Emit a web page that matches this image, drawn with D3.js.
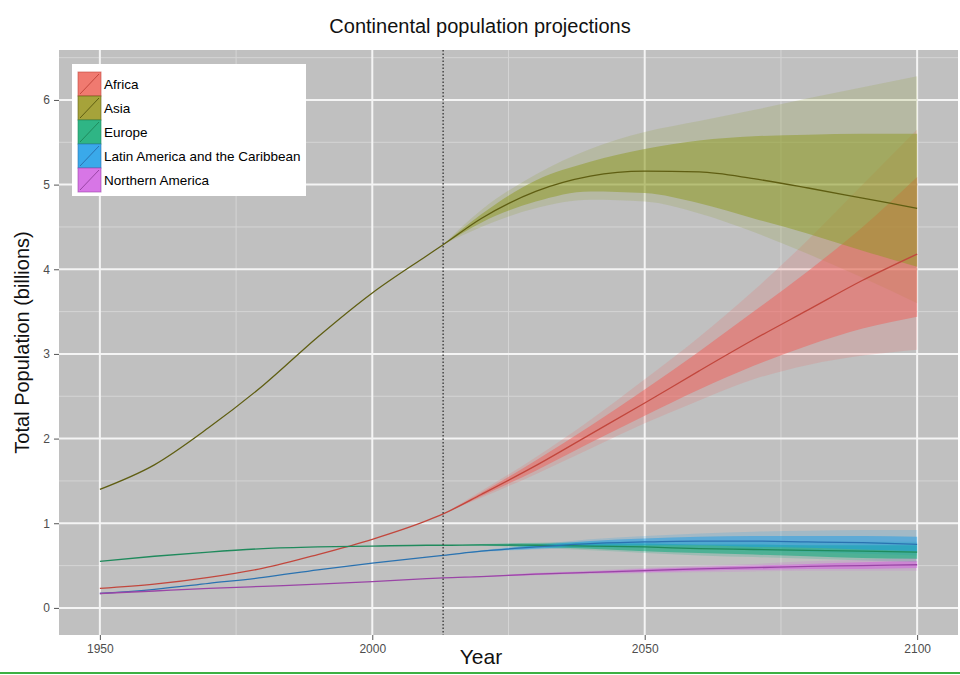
<!DOCTYPE html>
<html>
<head>
<meta charset="utf-8">
<script src="https://cdn.jsdelivr.net/npm/d3@7"></script>
<style>
  body { margin: 0; background: #fff; }
  text { font-family: "Liberation Sans", Arial, sans-serif; }
</style>
</head>
<body>
<div id="chart"></div>
<script>
// Continental population projections (billions)

// historic + median years
const years = [1950, 1960, 1970, 1980, 1990, 2000, 2010, 2013, 2020, 2030, 2040, 2050, 2060, 2070, 2080, 2090, 2100];
// projection years (bands start at the dotted line)
const projYears = [2013, 2020, 2030, 2040, 2050, 2060, 2070, 2080, 2090, 2100];

const regions = ["Africa", "Asia", "Europe", "Latin America and the Caribbean", "Northern America"];

// median values, one per year in `years`
const africaMedian = [0.23, 0.28, 0.36, 0.47, 0.63, 0.81, 1.03, 1.11, 1.34, 1.68, 2.05, 2.42, 2.80, 3.17, 3.52, 3.87, 4.18];
const asiaMedian   = [1.40, 1.69, 2.13, 2.63, 3.20, 3.72, 4.16, 4.29, 4.60, 4.92, 5.10, 5.16, 5.15, 5.07, 4.96, 4.84, 4.72];
const europeMedian = [0.55, 0.61, 0.66, 0.70, 0.72, 0.73, 0.74, 0.74, 0.745, 0.74, 0.73, 0.72, 0.70, 0.69, 0.68, 0.67, 0.66];
const latinMedian  = [0.17, 0.22, 0.29, 0.36, 0.45, 0.53, 0.60, 0.62, 0.67, 0.72, 0.76, 0.78, 0.79, 0.79, 0.78, 0.77, 0.75];
const northMedian  = [0.17, 0.20, 0.23, 0.255, 0.28, 0.31, 0.345, 0.355, 0.37, 0.40, 0.42, 0.44, 0.46, 0.475, 0.49, 0.50, 0.51];

// 95% and 80% intervals, one per year in `projYears`
const africaLo95 = [1.11, 1.30, 1.58, 1.88, 2.18, 2.45, 2.70, 2.87, 2.98, 3.05];
const africaLo80 = [1.11, 1.32, 1.62, 1.95, 2.27, 2.58, 2.86, 3.10, 3.30, 3.44];
const africaHi80 = [1.11, 1.36, 1.74, 2.15, 2.58, 3.03, 3.50, 3.98, 4.50, 5.09];
const africaHi95 = [1.11, 1.38, 1.78, 2.22, 2.70, 3.20, 3.75, 4.35, 5.00, 5.65];

const asiaLo95 = [4.29, 4.50, 4.72, 4.82, 4.80, 4.66, 4.44, 4.18, 3.90, 3.60];
const asiaLo80 = [4.29, 4.55, 4.80, 4.92, 4.90, 4.78, 4.60, 4.42, 4.22, 4.03];
const asiaHi80 = [4.29, 4.65, 5.05, 5.27, 5.42, 5.52, 5.57, 5.59, 5.60, 5.60];
const asiaHi95 = [4.29, 4.70, 5.12, 5.42, 5.62, 5.75, 5.88, 6.02, 6.15, 6.28];

const europeLo95 = [0.74, 0.735, 0.71, 0.68, 0.65, 0.62, 0.60, 0.58, 0.56, 0.54];
const europeLo80 = [0.74, 0.738, 0.72, 0.70, 0.67, 0.65, 0.63, 0.61, 0.59, 0.58];
const europeHi80 = [0.74, 0.75, 0.76, 0.76, 0.76, 0.75, 0.75, 0.74, 0.74, 0.74];
const europeHi95 = [0.74, 0.755, 0.77, 0.78, 0.78, 0.78, 0.78, 0.78, 0.78, 0.78];

const latinLo95 = [0.62, 0.66, 0.69, 0.71, 0.71, 0.70, 0.68, 0.66, 0.64, 0.62];
const latinLo80 = [0.62, 0.665, 0.70, 0.73, 0.74, 0.74, 0.72, 0.71, 0.69, 0.67];
const latinHi80 = [0.62, 0.675, 0.74, 0.79, 0.82, 0.84, 0.85, 0.85, 0.85, 0.84];
const latinHi95 = [0.62, 0.68, 0.75, 0.81, 0.85, 0.88, 0.90, 0.91, 0.92, 0.92];

const northLo95 = [0.355, 0.365, 0.385, 0.40, 0.41, 0.42, 0.43, 0.44, 0.44, 0.44];
const northLo80 = [0.355, 0.367, 0.39, 0.41, 0.42, 0.44, 0.45, 0.46, 0.46, 0.47];
const northHi80 = [0.355, 0.373, 0.41, 0.43, 0.46, 0.48, 0.50, 0.52, 0.54, 0.55];
const northHi95 = [0.355, 0.375, 0.415, 0.44, 0.47, 0.50, 0.52, 0.55, 0.57, 0.59];

const xTicks = [1950, 2000, 2050, 2100];
const xMinor = [1975, 2025, 2075];
const yTicks = [0, 1, 2, 3, 4, 5, 6];
const yMinor = [0.5, 1.5, 2.5, 3.5, 4.5, 5.5, 6.5];
const currentYear = 2013;

function createChart() {
    const W = 960, H = 675;
    const panel = {left: 59, right: 958, top: 50, bottom: 635};

    const fills = ["#f0605a", "#8d9a20", "#00a878", "#1a9be6", "#d45ee0"];
    const keyFills = ["#f07a70", "#a6a33a", "#2fb585", "#3aa9ea", "#d776e6"];
    const lines = ["#c2473d", "#5f5e12", "#1f8a5c", "#2a72b0", "#9a45a6"];

    const series = [
        {median: africaMedian, lo95: africaLo95, lo80: africaLo80, hi80: africaHi80, hi95: africaHi95},
        {median: asiaMedian,   lo95: asiaLo95,   lo80: asiaLo80,   hi80: asiaHi80,   hi95: asiaHi95},
        {median: europeMedian, lo95: europeLo95, lo80: europeLo80, hi80: europeHi80, hi95: europeHi95},
        {median: latinMedian,  lo95: latinLo95,  lo80: latinLo80,  hi80: latinHi80,  hi95: latinHi95},
        {median: northMedian,  lo95: northLo95,  lo80: northLo80,  hi80: northHi80,  hi95: northHi95}
    ];

    const svg = d3.select("#chart")
        .append("svg")
        .attr("width", W)
        .attr("height", H);

    // Scales (ggplot style 5% expansion)
    const x = d3.scaleLinear()
        .domain([1942.5, 2107.5])
        .range([panel.left, panel.right]);

    const y = d3.scaleLinear()
        .domain([-0.32, 6.59])
        .range([panel.bottom, panel.top]);

    // Panel background
    svg.append("rect")
        .attr("x", panel.left)
        .attr("y", panel.top)
        .attr("width", panel.right - panel.left)
        .attr("height", panel.bottom - panel.top)
        .attr("fill", "#c0c0c0");

    // Grid lines
    const grid = svg.append("g");
    grid.selectAll(".vminor").data(xMinor).enter().append("line")
        .attr("x1", d => x(d)).attr("x2", d => x(d))
        .attr("y1", panel.top).attr("y2", panel.bottom)
        .attr("stroke", "#d4d4d4").attr("stroke-width", 1);
    grid.selectAll(".hminor").data(yMinor).enter().append("line")
        .attr("x1", panel.left).attr("x2", panel.right)
        .attr("y1", d => y(d)).attr("y2", d => y(d))
        .attr("stroke", "#d4d4d4").attr("stroke-width", 1);
    grid.selectAll(".vmajor").data(xTicks).enter().append("line")
        .attr("x1", d => x(d)).attr("x2", d => x(d))
        .attr("y1", panel.top).attr("y2", panel.bottom)
        .attr("stroke", "#f4f4f4").attr("stroke-width", 2);
    grid.selectAll(".hmajor").data(yTicks).enter().append("line")
        .attr("x1", panel.left).attr("x2", panel.right)
        .attr("y1", d => y(d)).attr("y2", d => y(d))
        .attr("stroke", "#f4f4f4").attr("stroke-width", 2);

    // Ribbons
    const bandArea = (lo, hi) => d3.area()
        .x((d, i) => x(projYears[i]))
        .y0((d, i) => y(lo[i]))
        .y1((d, i) => y(hi[i]))
        .curve(d3.curveMonotoneX)(projYears);

    // 95% bands first (faint), then 80% bands
    series.forEach((s, i) => {
        svg.append("path")
            .attr("d", bandArea(s.lo95, s.hi95))
            .attr("fill", fills[i])
            .attr("fill-opacity", 0.18);
    });
    series.forEach((s, i) => {
        svg.append("path")
            .attr("d", bandArea(s.lo80, s.hi80))
            .attr("fill", fills[i])
            .attr("fill-opacity", 0.5);
    });

    // Median lines
    const line = d3.line()
        .x((d, i) => x(years[i]))
        .y(d => y(d))
        .curve(d3.curveMonotoneX);

    series.forEach((s, i) => {
        svg.append("path")
            .attr("d", line(s.median))
            .attr("fill", "none")
            .attr("stroke", lines[i])
            .attr("stroke-width", 1.3);
    });

    // Dotted line for the current year
    svg.append("line")
        .attr("x1", x(currentYear)).attr("x2", x(currentYear))
        .attr("y1", panel.top).attr("y2", panel.bottom)
        .attr("stroke", "#333")
        .attr("stroke-width", 1.3)
        .attr("stroke-dasharray", "1.5,2");

    // Axes
    const xAxis = svg.append("g")
        .attr("transform", `translate(0,${panel.bottom})`)
        .call(d3.axisBottom(x).tickValues(xTicks).tickFormat(d3.format("d")).tickSize(5).tickPadding(4));
    const yAxis = svg.append("g")
        .attr("transform", `translate(${panel.left},0)`)
        .call(d3.axisLeft(y).tickValues(yTicks).tickFormat(d3.format("d")).tickSize(5).tickPadding(4));

    [xAxis, yAxis].forEach(a => {
        a.select(".domain").remove();
        a.selectAll(".tick line").attr("stroke", "#555");
        a.selectAll(".tick text")
            .attr("fill", "#4d4d4d")
            .style("font-size", "12px")
            .style("font-family", "'Liberation Sans', Arial, sans-serif");
    });

    // Title
    svg.append("text")
        .attr("x", 480)
        .attr("y", 33)
        .attr("text-anchor", "middle")
        .style("font-size", "20px")
        .attr("fill", "#111")
        .text("Continental population projections");

    // Axis titles
    svg.append("text")
        .attr("x", 481)
        .attr("y", 664)
        .attr("text-anchor", "middle")
        .style("font-size", "21px")
        .attr("fill", "#111")
        .text("Year");

    svg.append("text")
        .attr("transform", `translate(29,${(panel.top + panel.bottom) / 2}) rotate(-90)`)
        .attr("text-anchor", "middle")
        .style("font-size", "20px")
        .attr("fill", "#111")
        .text("Total Population (billions)");

    // Legend
    const legend = svg.append("g").attr("transform", "translate(72,64)");
    legend.append("rect")
        .attr("width", 234)
        .attr("height", 132)
        .attr("fill", "#fff");

    const keySize = 24;
    const keys = legend.selectAll(".key")
        .data(regions)
        .enter()
        .append("g")
        .attr("class", "key")
        .attr("transform", (d, i) => `translate(6,${8 + i * keySize})`);

    keys.append("rect")
        .attr("width", 23)
        .attr("height", keySize)
        .attr("fill", (d, i) => keyFills[i])
        .attr("stroke", (d, i) => lines[i])
        .attr("stroke-opacity", 0.6)
        .attr("stroke-width", 1);

    keys.append("line")
        .attr("x1", 2).attr("y1", keySize - 2)
        .attr("x2", 21).attr("y2", 2)
        .attr("stroke", (d, i) => lines[i])
        .attr("stroke-width", 1);

    keys.append("text")
        .attr("x", 26)
        .attr("y", keySize / 2 + 5)
        .style("font-size", "13.5px")
        .attr("fill", "#000")
        .text(d => d);

    // Green rule at the bottom of the picture
    svg.append("rect")
        .attr("x", 0)
        .attr("y", 672)
        .attr("width", W)
        .attr("height", 2)
        .attr("fill", "#3cb043");
}

document.addEventListener("DOMContentLoaded", createChart);
</script>
</body>
</html>
